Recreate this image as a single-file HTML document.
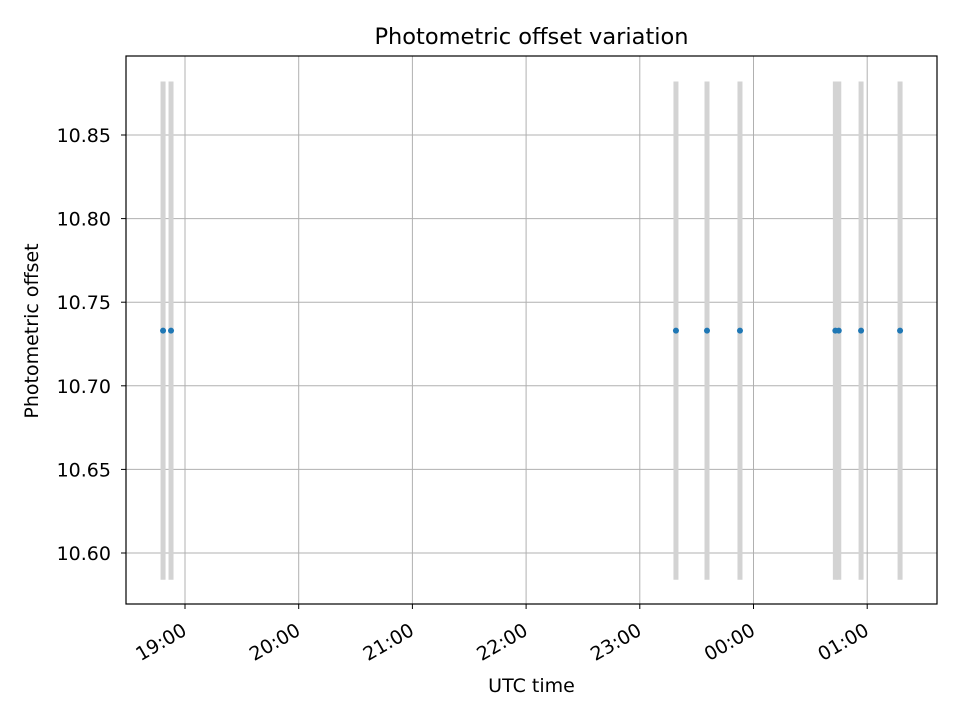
<!DOCTYPE html>
<html><head><meta charset="utf-8"><style>
body{margin:0;background:#fff;}
svg{font-family:"DejaVu Sans","Liberation Sans",sans-serif;}
</style></head><body>
<svg id="chart" width="960" height="720" xmlns="http://www.w3.org/2000/svg">
<rect width="960" height="720" fill="#fff"/>
<text x="531.5" y="44" font-size="22.5" text-anchor="middle">Photometric offset variation</text>
<g id="grid"></g><g id="bars"></g><g id="pts"></g>
<rect x="126" y="56" width="811" height="548" fill="none" stroke="#000" stroke-width="1.2"/>
<g id="axes"></g>
<text x="531.5" y="692" font-size="19" text-anchor="middle">UTC time</text>
<text transform="translate(38,331) rotate(-90)" font-size="19" text-anchor="middle">Photometric offset</text>
</svg>
<script>
// hours relative to 19:00 UTC
const times=[-0.193,-0.123,4.318,4.591,4.881,5.72,5.75,5.946,6.289];
const offsets=[10.733,10.733,10.733,10.733,10.733,10.733,10.733,10.733,10.733];
const errors=[0.149,0.149,0.149,0.149,0.149,0.149,0.149,0.149,0.149];
const xTickVals=[0,1,2,3,4,5,6];
const xTickLabels=["19:00","20:00","21:00","22:00","23:00","00:00","01:00"];
const yTickVals=[10.60,10.65,10.70,10.75,10.80,10.85];
const NS="http://www.w3.org/2000/svg";
function X(h){return 185+h*113.7;}
function Y(v){return 553-(v-10.60)*1672;}
function mk(t,a,p){const e=document.createElementNS(NS,t);for(const k in a)e.setAttribute(k,a[k]);p.appendChild(e);return e;}
const grid=document.getElementById('grid'),axes=document.getElementById('axes');
xTickVals.forEach((v,i)=>{const x=X(v);
 const g=mk('line',{x1:x,x2:x,y1:56,y2:604,stroke:'#b0b0b0','stroke-width':1},grid);
 
 
 const t=mk('line',{x1:x,x2:x,y1:604,y2:609,stroke:'#000'},axes);
 
 
 const lx=x+3,ly=634;
 const l=mk('text',{x:lx,y:ly,'font-size':19,'text-anchor':'end',transform:`rotate(-30 ${lx} ${ly})`},axes);
 l.textContent=xTickLabels[i];
 
 
});
yTickVals.forEach(v=>{const y=Y(v);
 const g=mk('line',{x1:126,x2:937,y1:y,y2:y,stroke:'#b0b0b0','stroke-width':1},grid);
 
 
 const t=mk('line',{x1:121,x2:126,y1:y,y2:y,stroke:'#000'},axes);
 
 
 const l=mk('text',{x:111,y:y+7,'font-size':19,'text-anchor':'end'},axes);
 l.textContent=v.toFixed(2);
 
 
});
const bars=document.getElementById('bars'),pts=document.getElementById('pts');
times.forEach((h,i)=>{const x=X(h);
 const b=mk('line',{x1:x,x2:x,y1:Y(offsets[i]+errors[i]),y2:Y(offsets[i]-errors[i]),stroke:'#d3d3d3','stroke-width':5},bars);
 
 
 const c=mk('circle',{cx:x,cy:Y(offsets[i]),r:3,fill:'#1f77b4'},pts);
 
 
});
</script>
</body></html>
